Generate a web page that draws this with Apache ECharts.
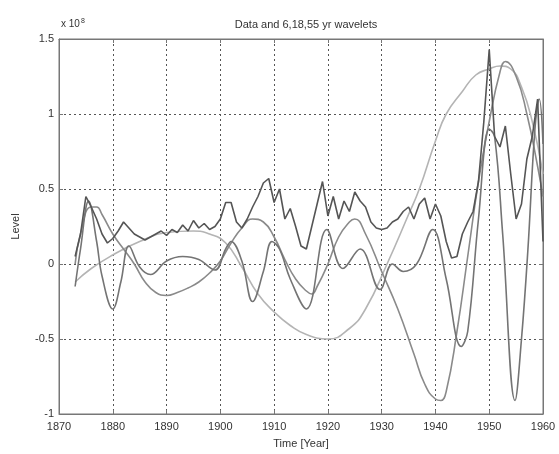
<!DOCTYPE html>
<html>
<head>
<meta charset="utf-8">
<script src="https://cdn.jsdelivr.net/npm/echarts@6/dist/echarts.min.js"></script>
<style>html,body{margin:0;padding:0;background:#fff}#c{width:559px;height:454px}</style>
</head>
<body>
<div id="c"></div>
<script>
// ---- data (values in units of 1e8) ----
var xTicks = [1870, 1880, 1890, 1900, 1910, 1920, 1930, 1940, 1950, 1960];
var yTicks = [-1, -0.5, 0, 0.5, 1, 1.5];

var dataYears = [1873,1874,1875,1876,1877,1878,1879,1880,1881,1882,1883,1884,1885,1886,1887,1888,1889,1890,1891,1892,1893,1894,1895,1896,1897,1898,1899,1900,1901,1902,1903,1904,1905,1906,1907,1908,1909,1910,1911,1912,1913,1914,1915,1916,1917,1918,1919,1920,1921,1922,1923,1924,1925,1926,1927,1928,1929,1930,1931,1932,1933,1934,1935,1936,1937,1938,1939,1940,1941,1942,1943,1944,1945,1946,1947,1948,1949,1950,1951,1952,1953,1954,1955,1956,1957,1958,1959,1960];
var dataVals = [0.05,0.2,0.45,0.38,0.3,0.2,0.14,0.17,0.22,0.28,0.24,0.2,0.18,0.16,0.18,0.2,0.22,0.19,0.23,0.21,0.26,0.22,0.29,0.24,0.27,0.23,0.25,0.3,0.41,0.41,0.28,0.24,0.3,0.38,0.45,0.54,0.57,0.41,0.5,0.3,0.37,0.25,0.12,0.1,0.25,0.4,0.55,0.32,0.45,0.3,0.42,0.35,0.48,0.42,0.38,0.28,0.24,0.23,0.24,0.28,0.3,0.35,0.38,0.3,0.4,0.44,0.3,0.4,0.32,0.15,0.04,0.05,0.2,0.28,0.35,0.55,0.95,1.43,0.85,0.78,0.92,0.6,0.3,0.4,0.7,0.85,1.1,0.15];

var w6Years = [1873,1874,1875.5,1877,1878,1880,1881.5,1883,1885,1887,1890,1893,1896,1899,1901,1902,1904,1906,1908,1909.6,1911,1913,1916,1919.8,1922.8,1926,1929.7,1932,1934,1936.5,1939.5,1942,1944.8,1946,1948,1950,1951,1952.5,1954.8,1956,1957.2,1958.5,1959.3,1960];
var w6Vals  = [-0.15,0.1,0.42,0.15,-0.08,-0.3,-0.12,0.12,-0.02,-0.07,0.02,0.05,0.03,-0.04,0.1,0.15,0.02,-0.25,-0.05,0.15,0.1,-0.1,-0.3,0.23,-0.03,0.1,-0.17,0.0,-0.05,0.0,0.23,-0.1,-0.55,-0.45,0.3,0.9,0.85,0.2,-0.91,-0.5,0.1,0.9,1.1,0.8];

var w18Years = [1873,1874,1876,1877,1878,1880,1882,1884,1886,1888,1890,1892,1894,1896,1898,1900,1902,1904,1906,1908,1910,1912,1914,1916,1917,1918,1920,1922,1924,1925,1927,1930,1933,1936,1938,1940,1941,1942,1944,1946,1948,1950,1952,1953,1955,1957,1959,1960];
var w18Vals  = [0.0,0.2,0.38,0.38,0.33,0.2,0.1,0.0,-0.12,-0.19,-0.21,-0.19,-0.16,-0.12,-0.06,0.02,0.14,0.24,0.3,0.28,0.18,0.03,-0.1,-0.18,-0.2,-0.15,0.0,0.18,0.28,0.3,0.2,-0.05,-0.3,-0.6,-0.8,-0.9,-0.91,-0.85,-0.45,0.05,0.55,0.95,1.28,1.35,1.25,1.0,0.65,0.45];

var w55Years = [1873,1876,1880,1885,1890,1895,1898,1901,1904,1907,1910,1913,1916,1920,1924,1927,1931,1935,1937,1940,1942,1945,1947.5,1950,1952,1954,1956,1958,1960];
var w55Vals  = [-0.12,-0.03,0.06,0.15,0.21,0.22,0.2,0.14,-0.02,-0.2,-0.32,-0.41,-0.47,-0.5,-0.43,-0.3,0.0,0.33,0.5,0.82,1.0,1.15,1.26,1.3,1.32,1.3,1.18,0.95,0.6];

function pairs(xs, ys) { return xs.map(function (x, i) { return [x, ys[i]]; }); }

var chart = echarts.init(document.getElementById('c'));
var font = 'Liberation Sans, Arial, sans-serif';
var gridLine = { show: true, lineStyle: { color: '#555', type: [2, 3], width: 1 } };
var frame = { show: true, onZero: false, lineStyle: { color: '#777' } };
var ticks = { show: true, inside: true, length: 4, lineStyle: { color: '#777' } };

chart.setOption({
  animation: false,
  backgroundColor: '#fff',
  title: {
    text: 'Data and 6,18,55 yr wavelets',
    left: 301, top: 14, textAlign: 'center',
    textStyle: { fontFamily: font, fontSize: 11, fontWeight: 'normal', color: '#333' }
  },
  graphic: [{
    type: 'text', left: 61, top: 18,
    style: {
      text: '{a|x 10}{b|8}', fontFamily: font,
      rich: { a: { fontSize: 10, fill: '#333', fontFamily: font }, b: { fontSize: 7, fill: '#333', verticalAlign: 'top', padding: [0, 0, 6, 1], fontFamily: font } }
    }
  }],
  grid: { left: 59, right: 16, top: 39, bottom: 38, show: true, borderColor: '#777', borderWidth: 1, backgroundColor: 'transparent' },
  xAxis: [{
    type: 'value', min: 1870, max: 1960, interval: 10,
    name: 'Time [Year]', nameLocation: 'middle', nameGap: 24,
    nameTextStyle: { fontFamily: font, fontSize: 11, color: '#333' },
    axisLine: frame, axisTick: ticks,
    axisLabel: { fontFamily: font, fontSize: 11, color: '#333', margin: 7, formatter: function (v) { return String(v); } },
    splitLine: gridLine
  }, {
    type: 'value', position: 'top', min: 1870, max: 1960, interval: 10,
    axisLine: frame, axisTick: ticks,
    axisLabel: { show: false }, splitLine: { show: false }
  }],
  yAxis: [{
    type: 'value', min: -1, max: 1.5, interval: 0.5,
    name: 'Level', nameLocation: 'middle', nameGap: 38, nameRotate: 90,
    nameTextStyle: { fontFamily: font, fontSize: 11, color: '#333' },
    axisLine: frame, axisTick: ticks,
    axisLabel: { fontFamily: font, fontSize: 11, color: '#333', margin: 5,
      formatter: function (v) { return yTicks.indexOf(v) >= 0 ? String(v) : ''; } },
    splitLine: gridLine
  }, {
    type: 'value', position: 'right', min: -1, max: 1.5, interval: 0.5,
    axisLine: frame, axisTick: ticks,
    axisLabel: { show: false }, splitLine: { show: false }
  }],
  series: [
    { name: '55 yr', type: 'line', data: pairs(w55Years, w55Vals), smooth: 0.5, showSymbol: false,
      lineStyle: { color: '#b4b4b4', width: 1.6 } },
    { name: '18 yr', type: 'line', data: pairs(w18Years, w18Vals), smooth: 0.5, showSymbol: false,
      lineStyle: { color: '#8a8a8a', width: 1.6 } },
    { name: '6 yr', type: 'line', data: pairs(w6Years, w6Vals), smooth: 0.4, showSymbol: false,
      lineStyle: { color: '#747474', width: 1.6 } },
    { name: 'Data', type: 'line', data: pairs(dataYears, dataVals), showSymbol: false,
      lineStyle: { color: '#555555', width: 1.6 } }
  ]
});
</script>
</body>
</html>
